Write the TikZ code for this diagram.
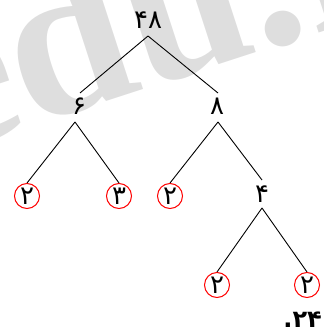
\documentclass[tikz,border=0pt]{standalone}
\usepackage{fontspec}
\newfontfamily\fa[Script=Arabic]{DejaVu Sans}
\setmainfont{Liberation Serif}
\tikzset{
  num/.style={font=\fa\fontsize{26}{26}\selectfont, inner sep=0pt},
  leaf/.style={num, draw=red, circle, minimum size=25pt, line width=1pt},
  edge/.style={draw=black, line width=0.9pt},
  wmark/.style={text=black!13, font=\fontsize{220}{220}\selectfont\bfseries, rotate=18, anchor=base, inner sep=0pt},
}
\begin{document}
\begin{tikzpicture}[x=1pt,y=-1pt]
\useasboundingbox (0,0) rectangle (323,331);
\begin{scope}
\clip (0,0) rectangle (323,331);
\node[wmark] (wm1) at (-16.5,141.5) {e};
\node[wmark] (wm2) at (87.6,107.6) {d};
\node[wmark] (wm3) at (203.6,69.9) {u};
\node[wmark] (wm4) at (287.8,42.6) {.};
\node[wmark, anchor=base west] (wm5) at (314,34.1) {ir};
\end{scope}
\node[num] (n48) at (148,20) {۴۸};
\node[num] (n6) at (79,106) {۶};
\node[num] (n8) at (217,106) {۸};
\node[leaf] (a2) at (27,196) {۲};
\node[leaf] (a3) at (119,196) {۳};
\node[leaf] (b2) at (170,196) {۲};
\node[num] (n4) at (262,194) {۴};
\node[leaf] (c2) at (217,285) {۲};
\node[leaf] (d2) at (307,285) {۲};
\node[font=\fa\fontsize{24}{24}\selectfont\bfseries, inner sep=0pt, anchor=east] (lbl) at (322,320) {۲۴.};
\coordinate (p48) at (148,36);
\coordinate (p6) at (75,122);
\coordinate (p8) at (218,122);
\coordinate (p4) at (262,208);
\coordinate (e1) at (80,93);
\coordinate (e2) at (218,93);
\draw[edge] (p48) -- (e1);
\draw[edge] (p48) -- (e2);
\draw[edge] (p6) -- (a2.north);
\draw[edge] (p6) -- (a3.north);
\draw[edge] (p8) -- (b2.north);
\draw[edge] (p8) -- (262,180);
\draw[edge] (p4) -- (c2.north);
\draw[edge] (p4) -- (d2.north);
\end{tikzpicture}
\end{document}
